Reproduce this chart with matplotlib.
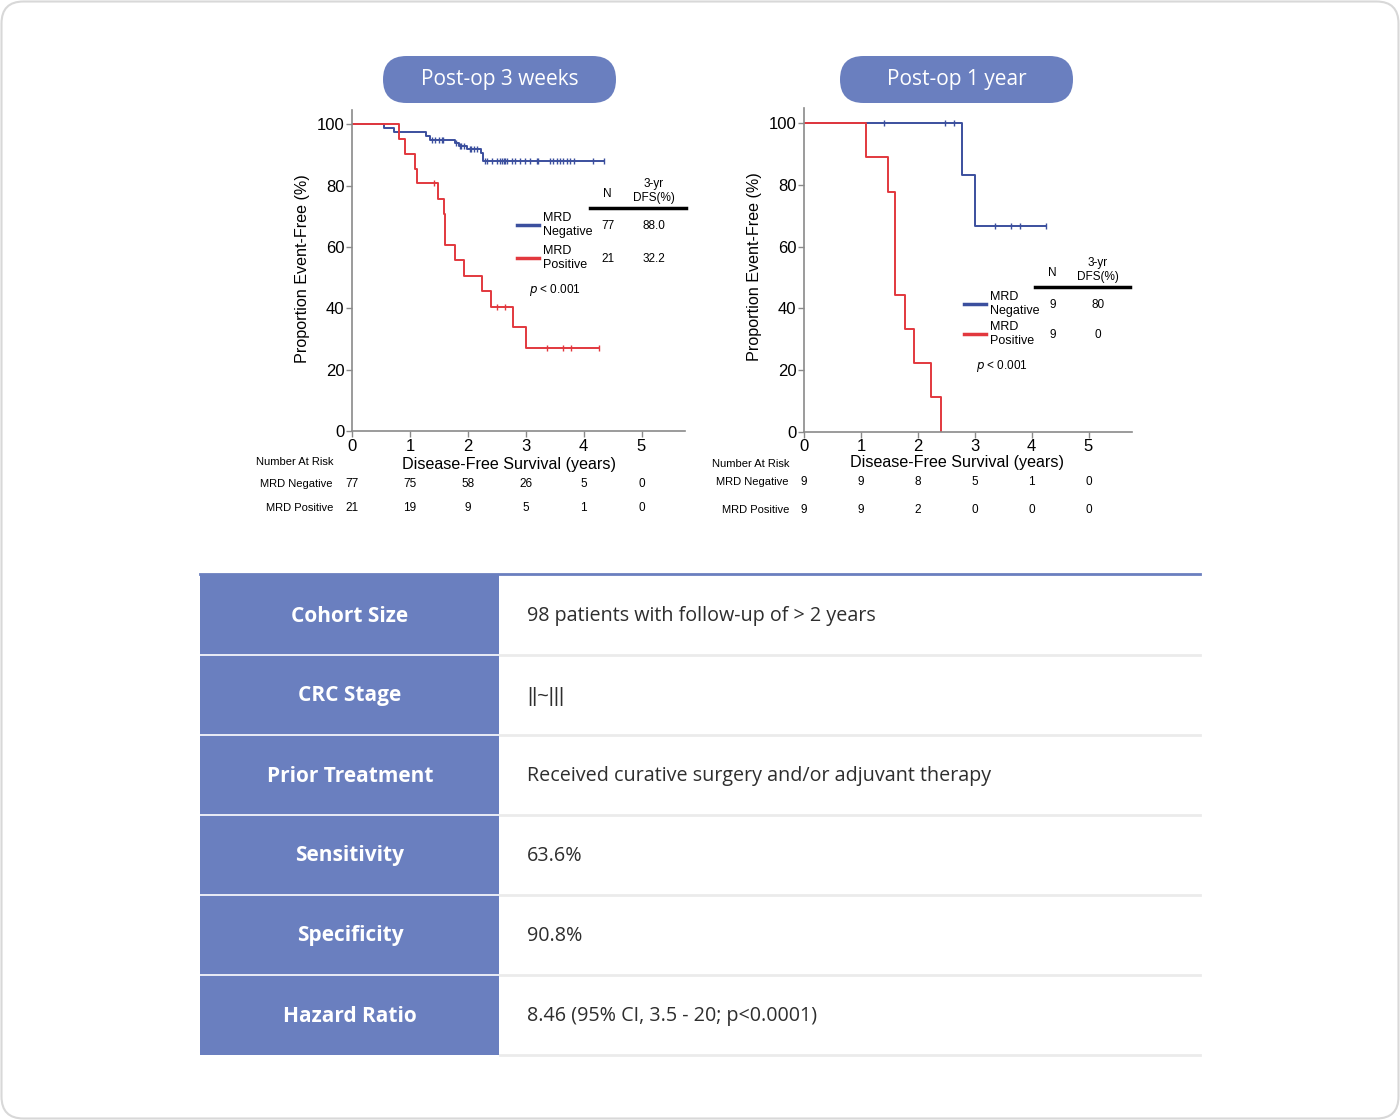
import numpy as np
import matplotlib
matplotlib.use("Agg")
import matplotlib.pyplot as plt
from matplotlib.patches import FancyBboxPatch, Rectangle
from matplotlib.transforms import blended_transform_factory

# ---- data ----
years = [0, 1, 2, 3, 4, 5]
pct_ticks = [0, 20, 40, 60, 80, 100]

# post-op 3 weeks
w3_neg_t = [0.56, 0.72, 1.28, 1.35, 1.78, 1.84, 1.99, 2.22, 2.26]
w3_neg_s = [98.7, 97.4, 96.3, 94.9, 94.0, 93.0, 91.9, 90.7, 88.0]
w3_neg_end = 4.35
w3_neg_cens = [1.38, 1.43, 1.51, 1.55, 1.57, 1.80, 1.86, 1.89, 1.93, 2.03, 2.06, 2.10, 2.16,
               2.29, 2.33, 2.42, 2.50, 2.56, 2.59, 2.62, 2.65, 2.68, 2.76, 2.82, 2.90, 2.99,
               3.08, 3.20, 3.22, 3.42, 3.48, 3.54, 3.60, 3.65, 3.71, 3.77, 3.83, 4.17, 4.35]
w3_pos_t = [0.82, 0.91, 1.09, 1.12, 1.48, 1.59, 1.60, 1.61, 1.78, 1.93, 2.25, 2.40, 2.78, 3.01]
w3_pos_s = [95.2, 90.2, 85.6, 81.0, 75.8, 70.7, 65.8, 60.8, 55.7, 50.6, 45.6, 40.5, 33.8, 27.2]
w3_pos_end = 4.26
w3_pos_cens = [1.41, 2.50, 2.65, 3.36, 3.64, 3.78, 4.26]
w3_risk_neg = [77, 75, 58, 26, 5, 0]
w3_risk_pos = [21, 19, 9, 5, 1, 0]
w3_n = ["77", "21"]
w3_dfs = ["88.0", "32.2"]

# post-op 1 year
y1_neg_t = [2.78, 3.01]
y1_neg_s = [83.3, 66.7]
y1_neg_end = 4.26
y1_neg_cens = [1.40, 2.47, 2.63, 3.36, 3.64, 3.79, 4.26]
y1_pos_t = [1.09, 1.48, 1.595, 1.60, 1.605, 1.78, 1.93, 2.24, 2.40]
y1_pos_s = [88.9, 77.8, 66.7, 55.6, 44.4, 33.3, 22.2, 11.1, 0.0]
y1_pos_end = 2.40
y1_pos_cens = []
y1_risk_neg = [9, 9, 8, 5, 1, 0]
y1_risk_pos = [9, 9, 2, 0, 0, 0]
y1_n = ["9", "9"]
y1_dfs = ["80", "0"]

table_keys = ["Cohort Size", "CRC Stage", "Prior Treatment", "Sensitivity",
              "Specificity", "Hazard Ratio"]
table_vals = ["98 patients with follow-up of > 2 years", "||~|||",
              "Received curative surgery and/or adjuvant therapy", "63.6%",
              "90.8%", "8.46 (95% CI, 3.5 - 20; p<0.0001)"]

BLUE = "#3b4f9e"
RED = "#e2383e"
PILL = "#6a7fbf"
W, H = 1400, 1120

fig = plt.figure(figsize=(14, 11.2), dpi=100)

# background axes in pixel units
bg = fig.add_axes([0, 0, 1, 1])
bg.set_xlim(0, W)
bg.set_ylim(H, 0)
bg.axis("off")

bg.add_patch(FancyBboxPatch((1.5, 1.5), W - 3, H - 3,
                            boxstyle="round,pad=0,rounding_size=22",
                            fc="white", ec="#d8d8d8", lw=1.5))

for x0, label in [(383, "Post-op 3 weeks"), (840, "Post-op 1 year")]:
    bg.add_patch(FancyBboxPatch((x0, 56), 233, 47,
                                boxstyle="round,pad=0,rounding_size=23.5",
                                fc=PILL, ec="none"))
    bg.text(x0 + 116.5, 80, label, color="white", fontsize=15,
            family="Open Sans", ha="center", va="center")

# table
row_top = 575
row_h = 80
n_rows = len(table_keys)
bg.add_patch(Rectangle((200, row_top), 299, row_h * n_rows, fc=PILL, ec="none"))
bg.plot([200, 1200], [574, 574], color=PILL, lw=2)
for i in range(n_rows):
    yb = row_top + row_h * (i + 1)
    if i < n_rows - 1:
        bg.plot([200, 499], [yb, yb], color="white", lw=1.2)
    bg.plot([500, 1200], [yb, yb], color="#ebebeb", lw=2)
    yc = row_top + row_h * i + row_h / 2 + 1
    bg.text(350, yc, table_keys[i], color="white", fontsize=15, fontweight="bold",
            family="Open Sans", ha="center", va="center")
    val_font = "Liberation Sans" if table_vals[i].startswith("|") else "Open Sans"
    bg.text(527, yc, table_vals[i], color="#2e2e2e", fontsize=14.2,
            family=val_font, ha="left", va="center")


def px(x, y):
    return x / W, 1 - y / H


def km_panel(rect_px, ppy, ppp, neg, pos, risk_neg, risk_pos, n_vals, dfs_vals,
             leg, risk_y, risk_lbl_x):
    l, t, r, b = rect_px
    ax = fig.add_axes([l / W, 1 - b / H, (r - l) / W, (b - t) / H])
    ax.set_facecolor("none")
    ax.set_xlim(0, (r - l) / ppy)
    ax.set_ylim(0, (b - t) / ppp)
    for (tt, ss, end, cens), col in [(neg, BLUE), (pos, RED)]:
        xs = np.r_[0, tt, end]
        ys = np.r_[100, ss, ss[-1]]
        ax.step(xs, ys, where="post", color=col, lw=1.4)
        if len(cens):
            idx = np.searchsorted(xs, cens, side="right") - 1
            cy = ys[idx]
            ax.plot(cens, cy, ls="none", marker="|", ms=5, mew=1, color=col)
    ax.set_xticks(years)
    ax.set_yticks(pct_ticks)
    ax.tick_params(direction="out", length=4, width=1, color="#8a8a8a",
                   labelsize=12, pad=1.5)
    for s in ["top", "right"]:
        ax.spines[s].set_visible(False)
    for s in ["left", "bottom"]:
        ax.spines[s].set_color("#8a8a8a")
        ax.spines[s].set_linewidth(1.2)
    for lab in ax.get_xticklabels() + ax.get_yticklabels():
        lab.set_family("Liberation Sans")

    # legend table
    tr = fig.transFigure
    lx, nx, dx, ty, gap = leg
    ax.text(*px(nx, ty + 3), "N", transform=tr, fontsize=8.5, ha="center",
            va="center", family="Liberation Sans")
    ax.text(*px(dx, ty), "3-yr\nDFS(%)", transform=tr, fontsize=8.5, ha="center",
            va="center", linespacing=1.15, family="Liberation Sans")
    x1, y1 = px(nx - 17, ty + 17)
    x2, _ = px(dx + 32, ty + 17)
    fig.add_artist(plt.Line2D([x1, x2], [y1, y1], color="black", lw=2.5))
    for k, (col, name) in enumerate([(BLUE, "MRD\nNegative"), (RED, "MRD\nPositive")]):
        yy = ty + 34 + k * gap
        a, c = px(lx, yy)
        bb, _ = px(lx + 22, yy)
        fig.add_artist(plt.Line2D([a, bb], [c, c], color=col, lw=2.5))
        ax.text(*px(lx + 26, yy), name, transform=tr, fontsize=9, ha="left",
                va="center", linespacing=1.25, family="Liberation Sans")
        ax.text(*px(nx + 1, yy + 1), n_vals[k], transform=tr, fontsize=8.5,
                ha="center", va="center", family="Liberation Sans")
        ax.text(*px(dx, yy + 1), dfs_vals[k], transform=tr, fontsize=8.5,
                ha="center", va="center", family="Liberation Sans")
    ax.text(*px(lx + 12, ty + 34 + gap + 32), r"$p$ < 0.001", transform=tr,
            fontsize=8.5, ha="left", va="center", family="Liberation Sans")

    # number at risk
    bt = blended_transform_factory(ax.transData, fig.transFigure)
    ya, yn, yp = risk_y
    ax.text(*px(risk_lbl_x, ya), "Number At Risk", transform=tr, fontsize=8,
            ha="right", va="center", family="Liberation Sans")
    ax.text(*px(risk_lbl_x, yn), "MRD Negative", transform=tr, fontsize=8,
            ha="right", va="center", family="Liberation Sans")
    ax.text(*px(risk_lbl_x, yp), "MRD Positive", transform=tr, fontsize=8,
            ha="right", va="center", family="Liberation Sans")
    for yr, vn, vp in zip(years, risk_neg, risk_pos):
        ax.text(yr, 1 - yn / H, str(vn), transform=bt, fontsize=8.5, ha="center",
                va="center", family="Liberation Sans")
        ax.text(yr, 1 - yp / H, str(vp), transform=bt, fontsize=8.5, ha="center",
                va="center", family="Liberation Sans")
    return ax


ax1 = km_panel((352, 110, 685, 431), 57.9, 3.066,
               (w3_neg_t, w3_neg_s, w3_neg_end, w3_neg_cens),
               (w3_pos_t, w3_pos_s, w3_pos_end, w3_pos_cens),
               w3_risk_neg, w3_risk_pos, w3_n, w3_dfs,
               (517, 607, 654, 191, 33), (462, 484, 508), 333)
fig.text(*px(303, 269), "Proportion Event-Free (%)", rotation=90, fontsize=11.6,
         ha="center", va="center", family="Liberation Sans")
fig.text(*px(509, 464), "Disease-Free Survival (years)", fontsize=11.6,
         ha="center", va="center", family="Liberation Sans")

ax2 = km_panel((804, 108, 1132, 431.5), 56.9, 3.083,
               (y1_neg_t, y1_neg_s, y1_neg_end, y1_neg_cens),
               (y1_pos_t, y1_pos_s, y1_pos_end, y1_pos_cens),
               y1_risk_neg, y1_risk_pos, y1_n, y1_dfs,
               (964, 1052, 1098, 270, 30), (464, 482, 510), 789)
fig.text(*px(755, 267), "Proportion Event-Free (%)", rotation=90, fontsize=11.6,
         ha="center", va="center", family="Liberation Sans")
fig.text(*px(957, 462), "Disease-Free Survival (years)", fontsize=11.6,
         ha="center", va="center", family="Liberation Sans")

plt.savefig("out.png", dpi=100)
